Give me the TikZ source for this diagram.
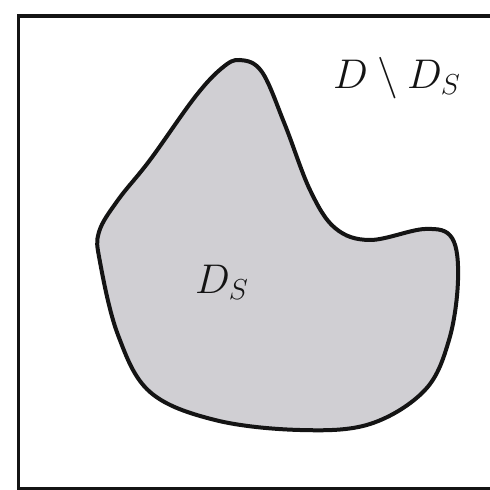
\documentclass[tikz,border=0pt]{standalone}
\usepackage{amsmath, amssymb}
\usepackage{tikz}
\usetikzlibrary{calc, positioning}
\usepackage{xcolor}
\definecolor{blobgrey}{RGB}{208, 207, 211}
\definecolor{lineblack}{RGB}{20, 20, 20}

\begin{document}
\begin{tikzpicture}[
    x=0.5pt, y=-0.5pt,
    frame_style/.style={draw=lineblack, line width=1.8pt},
    blob_style/.style={draw=lineblack, fill=blobgrey, line width=2pt,
      line join=round},
    label_style/.style={inner sep=0pt, text=lineblack,
      font=\fontsize{20}{24}\selectfont}
]
    % --- Cadre ---
    \useasboundingbox (0,0) rectangle (490,490);
    \clip (0,0) rectangle (490,490);
    \draw[frame_style] (18.5,16) rectangle (520,489);

    % --- Sous-domaine ---
    \draw[blob_style] plot[smooth cycle, tension=0.6] coordinates {
        (240,60) (262,72) (285,125) (310,190) (335,228) (370,240)
        (425,229) (452,238) (458,280) (449,340) (425,390) (370,424)
        (300,430) (215,420) (150,392) (118,335) (100,262) (99,232)
        (118,200) (150,160) (195,97) (222,68)};

    % --- Etiquettes ---
    \node[label_style] (lblDS) at (222,282) {$D_S$};
    \node[label_style] (lblRest) at (397,78) {$D \setminus D_S$};

\end{tikzpicture}
\end{document}
